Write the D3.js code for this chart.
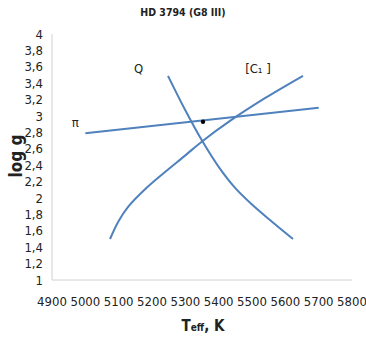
<!DOCTYPE html>
<html><head><meta charset="utf-8">
<script src="https://cdn.jsdelivr.net/npm/d3@7"></script>
<style>
body{margin:0;background:#fff;}
text{font-family:"Liberation Sans Narrow","DejaVu Sans Condensed",sans-serif;fill:#222;}
</style></head>
<body>
<svg id="c" width="366" height="344"></svg>
<script>
const title = "HD 3794 (G8 III)";
const xTicks = [4900,5000,5100,5200,5300,5400,5500,5600,5700,5800];
const yTicks = [1,1.2,1.4,1.6,1.8,2,2.2,2.4,2.6,2.8,3,3.2,3.4,3.6,3.8,4];
const piT = [5000, 5700];
const piG = [2.79, 3.10];
const qT = [5248, 5300, 5350, 5400, 5450, 5500, 5560, 5623];
const qG = [3.49, 3.07, 2.70, 2.38, 2.12, 1.92, 1.71, 1.50];
const cT = [5074, 5100, 5130, 5180, 5240, 5300, 5350, 5434, 5540, 5653];
const cG = [1.50, 1.72, 1.90, 2.11, 2.32, 2.52, 2.69, 2.94, 3.22, 3.49];
const dotT = [5353];
const dotG = [2.93];
const labels = [{t:"Q",x:5160,g:3.53},{t:"[C\u2081 ]",x:5518,g:3.53},{t:"\u03c0",x:4970,g:2.87}];

const svg = d3.select("#c");
const x = d3.scaleLinear().domain([4900,5800]).range([52,352]);
const y = d3.scaleLinear().domain([1,4]).range([280,34]);
const blue = "#4F81BD";

svg.append("text").attr("x",183).attr("y",16).attr("text-anchor","middle")
  .style("font-size","10.5px").style("font-weight","bold").text(title);

svg.append("line").attr("x1",x(4900)).attr("x2",x(4900)).attr("y1",y(4)).attr("y2",y(1)).attr("stroke","#d0d0d0");
svg.append("line").attr("x1",x(4900)).attr("x2",x(5800)).attr("y1",y(1)).attr("y2",y(1)).attr("stroke","#d0d0d0");

svg.selectAll(".yt").data(yTicks).enter().append("text")
  .attr("x",43).attr("y",d=>y(d)+4.5).attr("text-anchor","end").style("font-size","13px")
  .text(d=>d3.format(".1~f")(d).replace(".",","));
svg.selectAll(".xt").data(xTicks).enter().append("text")
  .attr("x",d=>x(d)).attr("y",306).attr("text-anchor","middle").style("font-size","13px")
  .text(d=>d);

svg.append("text").attr("transform","translate(22,156) rotate(-90)").attr("text-anchor","middle")
  .style("font-size","17px").style("font-weight","bold").text("log g");
const xt = svg.append("text").attr("x",203).attr("y",331).attr("text-anchor","middle")
  .style("font-size","15px").style("font-weight","bold");
xt.append("tspan").text("T");
xt.append("tspan").style("font-size","10px").text("eff");
xt.append("tspan").text(", K");

const line = d3.line().x(d=>x(d[0])).y(d=>y(d[1]));
const lineC = d3.line().x(d=>x(d[0])).y(d=>y(d[1])).curve(d3.curveCatmullRom.alpha(0.5));
svg.append("path").attr("d",line(d3.zip(piT,piG))).attr("fill","none").attr("stroke",blue).attr("stroke-width",2);
svg.append("path").attr("d",lineC(d3.zip(qT,qG))).attr("fill","none").attr("stroke",blue).attr("stroke-width",2);
svg.append("path").attr("d",lineC(d3.zip(cT,cG))).attr("fill","none").attr("stroke",blue).attr("stroke-width",2);
svg.selectAll(".dot").data(d3.zip(dotT,dotG)).enter().append("circle")
  .attr("cx",d=>x(d[0])).attr("cy",d=>y(d[1])).attr("r",2.2).attr("fill","#000");
svg.selectAll(".lab").data(labels).enter().append("text")
  .attr("x",d=>x(d.x)).attr("y",d=>y(d.g)).attr("text-anchor","middle").style("font-size","13px").text(d=>d.t);
</script>
</body></html>
